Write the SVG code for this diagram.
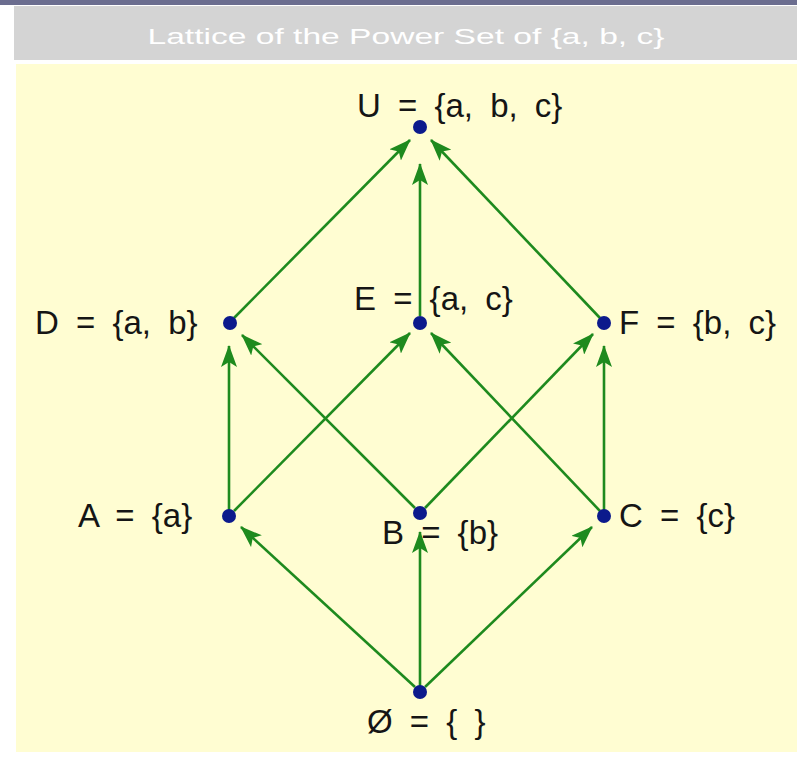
<svg xmlns="http://www.w3.org/2000/svg" width="797" height="760" viewBox="0 0 797 760">
<style>
.lbl{font-family:"Liberation Sans",Arial,sans-serif;font-size:33px;fill:#151515;word-spacing:8px}
.title{font-family:"Liberation Sans",Arial,sans-serif;font-size:22px;fill:#ffffff}
.edge{stroke:#1e8a1e;stroke-width:2.6;fill:none;marker-end:url(#ah)}
.dot{fill:#0c1a8c}
</style>
<defs>
<marker id="ah" viewBox="0 0 22 16" markerWidth="22" markerHeight="16" refX="21" refY="8" orient="auto" markerUnits="userSpaceOnUse">
<path d="M0,0 L22,8 L0,16 L5,8 Z" fill="#1e8a1e"/>
</marker>
</defs>
<rect x="0" y="0" width="797" height="760" fill="#ffffff"/>
<rect x="0" y="0" width="797" height="5" fill="#6b6d8f"/>
<rect x="14" y="6" width="783" height="54" fill="#d4d4d4"/>
<rect x="16" y="64" width="781" height="688" fill="#fffdd2"/>
<text class="title" x="406" y="44" text-anchor="middle" textLength="517" lengthAdjust="spacingAndGlyphs">Lattice of the Power Set of {a, b, c}</text>
<g id="edges">
<line class="edge" x1="234" y1="318" x2="410" y2="140"/>
<line class="edge" x1="420" y1="316" x2="420" y2="164"/>
<line class="edge" x1="600" y1="318" x2="431" y2="140"/>
<line class="edge" x1="229" y1="510" x2="229" y2="346"/>
<line class="edge" x1="234" y1="511" x2="410" y2="333"/>
<line class="edge" x1="415" y1="508" x2="242" y2="335"/>
<line class="edge" x1="425" y1="508" x2="593" y2="334"/>
<line class="edge" x1="600" y1="511" x2="431" y2="333"/>
<line class="edge" x1="604" y1="510" x2="604" y2="346"/>
<line class="edge" x1="415" y1="687" x2="241" y2="527"/>
<line class="edge" x1="420" y1="686" x2="420" y2="532"/>
<line class="edge" x1="425" y1="687" x2="592" y2="527"/>
</g>
<g id="U"><circle class="dot" cx="420" cy="127" r="7"/><text class="lbl" x="357" y="117">U = {a, b, c}</text></g>
<g id="D"><circle class="dot" cx="230" cy="323" r="7"/><text class="lbl" x="35" y="334">D = {a, b}</text></g>
<g id="E"><circle class="dot" cx="420" cy="323" r="7"/><text class="lbl" x="354" y="310">E = {a, c}</text></g>
<g id="F"><circle class="dot" cx="604" cy="323" r="7"/><text class="lbl" x="619" y="334">F = {b, c}</text></g>
<g id="A"><circle class="dot" cx="229" cy="516" r="7"/><text class="lbl" x="78" y="527">A = {a}</text></g>
<g id="B"><circle class="dot" cx="420" cy="513" r="7"/><text class="lbl" x="382" y="544">B = {b}</text></g>
<g id="C"><circle class="dot" cx="604" cy="516" r="7"/><text class="lbl" x="619" y="527">C = {c}</text></g>
<g id="Empty"><circle class="dot" cx="420" cy="692" r="7"/><text class="lbl" x="367" y="733">Ø = { }</text></g>
</svg>
